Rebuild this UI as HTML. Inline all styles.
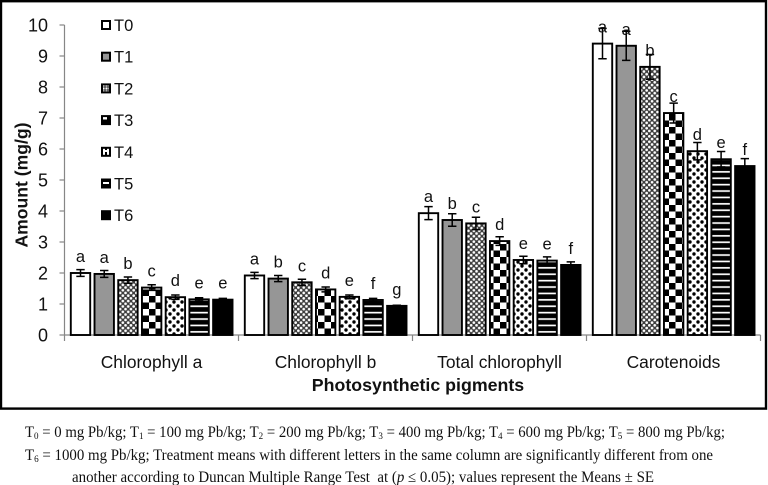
<!DOCTYPE html>
<html lang="en">
<head>
<meta charset="utf-8">
<title>Photosynthetic pigments chart</title>
<style>
html,body{margin:0;padding:0;background:#fff;width:768px;height:485px;overflow:hidden}
svg{display:block}
text{font-family:"Liberation Sans",Arial,sans-serif;fill:#111}
.cap{font-family:"Liberation Serif","Times New Roman",serif;font-size:15.5px}
.sub{font-size:9.5px}
</style>
</head>
<body>
<svg id="chart" width="768" height="485" viewBox="0 0 768 485" xmlns="http://www.w3.org/2000/svg">
<defs>
<pattern id="p-t2" width="5.4" height="5.4" patternUnits="userSpaceOnUse">
<rect width="5.4" height="5.4" fill="#3c3c3c"/>
<circle cx="1.35" cy="1.35" r="1.35" fill="#fff"/>
<circle cx="4.05" cy="4.05" r="1.35" fill="#fff"/>
</pattern>
<pattern id="p-t3" width="13" height="13" patternUnits="userSpaceOnUse" x="71" y="335">
<rect width="13" height="13" fill="#fff"/>
<rect width="6.5" height="6.5" fill="#000"/>
<rect x="6.5" y="6.5" width="6.5" height="6.5" fill="#000"/>
</pattern>
<pattern id="p-t4" width="8" height="8" patternUnits="userSpaceOnUse">
<rect width="8" height="8" fill="#fff"/>
<circle cx="2" cy="2" r="1.7" fill="#000"/>
<circle cx="6" cy="6" r="1.7" fill="#000"/>
</pattern>
<pattern id="p-t5" width="6.4" height="6.4" patternUnits="userSpaceOnUse" y="335">
<rect width="6.4" height="6.4" fill="#000"/>
<rect y="2.4" width="6.4" height="1.7" fill="#fff"/>
</pattern>
<pattern id="k-t2" width="3" height="3" patternUnits="userSpaceOnUse">
<rect width="3" height="3" fill="#444"/><circle cx="1.5" cy="1.5" r="1.1" fill="#fff"/>
</pattern>
<pattern id="k-t3" width="8" height="8" patternUnits="userSpaceOnUse" x="103" y="116">
<rect width="8" height="8" fill="#000"/><rect width="4" height="3.5" fill="#fff"/>
</pattern>
<pattern id="k-t4" width="6" height="6" patternUnits="userSpaceOnUse" x="103" y="148">
<rect width="6" height="6" fill="#fff"/><rect x="2" y="0" width="2" height="2" fill="#000"/><rect x="2" y="4" width="2" height="2" fill="#000"/>
</pattern>
<pattern id="k-t5" width="8" height="8" patternUnits="userSpaceOnUse" x="103" y="179">
<rect width="8" height="8" fill="#000"/><rect y="3" width="8" height="2" fill="#fff"/>
</pattern>
</defs>

<rect x="1" y="1.2" width="765" height="407.4" fill="#fff" stroke="#000" stroke-width="2.4"/>

<g id="axes"></g>
<g id="bars"></g>
<g id="errors"></g>
<g id="letters"></g>
<g id="legend"></g>

<text transform="translate(27.5,185) rotate(-90)" text-anchor="middle" font-size="17.6" font-weight="bold">Amount (mg/g)</text>
<text x="418" y="391" text-anchor="middle" font-size="17.8" font-weight="bold">Photosynthetic pigments</text>

<g>
<text class="cap" x="25" y="437" textLength="700" lengthAdjust="spacingAndGlyphs">T<tspan class="sub" dy="2">0</tspan><tspan dy="-2"> = 0 mg Pb/kg; T</tspan><tspan class="sub" dy="2">1</tspan><tspan dy="-2"> = 100 mg Pb/kg; T</tspan><tspan class="sub" dy="2">2</tspan><tspan dy="-2"> = 200 mg Pb/kg; T</tspan><tspan class="sub" dy="2">3</tspan><tspan dy="-2"> = 400 mg Pb/kg; T</tspan><tspan class="sub" dy="2">4</tspan><tspan dy="-2"> = 600 mg Pb/kg; T</tspan><tspan class="sub" dy="2">5</tspan><tspan dy="-2"> = 800 mg Pb/kg;</tspan></text>
<text class="cap" x="25" y="460" textLength="688" lengthAdjust="spacingAndGlyphs">T<tspan class="sub" dy="2">6</tspan><tspan dy="-2"> = 1000 mg Pb/kg; Treatment means with different letters in the same column are significantly different from one</tspan></text>
<text class="cap" x="72" y="482" textLength="582" lengthAdjust="spacingAndGlyphs">another according to Duncan Multiple Range Test &#160;at (<tspan font-style="italic">p</tspan> ≤ 0.05); values represent the Means ± SE</text>
</g>

<script>
var categories = ["Chlorophyll a", "Chlorophyll b", "Total chlorophyll", "Carotenoids"];
var seriesNames = ["T0", "T1", "T2", "T3", "T4", "T5", "T6"];
var yTicks = [0, 1, 2, 3, 4, 5, 6, 7, 8, 9, 10];

var valuesT0 = [2.00, 1.92, 3.93, 9.40];
var valuesT1 = [1.97, 1.82, 3.71, 9.33];
var valuesT2 = [1.77, 1.70, 3.60, 8.65];
var valuesT3 = [1.53, 1.47, 3.03, 7.16];
var valuesT4 = [1.22, 1.23, 2.42, 5.93];
var valuesT5 = [1.15, 1.13, 2.40, 5.67];
var valuesT6 = [1.14, 0.94, 2.26, 5.45];

var errorsT0 = [0.11, 0.10, 0.21, 0.49];
var errorsT1 = [0.11, 0.10, 0.20, 0.47];
var errorsT2 = [0.10, 0.10, 0.20, 0.40];
var errorsT3 = [0.09, 0.08, 0.14, 0.32];
var errorsT4 = [0.07, 0.06, 0.12, 0.28];
var errorsT5 = [0.05, 0.05, 0.12, 0.25];
var errorsT6 = [0.04, 0.02, 0.10, 0.24];

var lettersT0 = ["a", "a", "a", "a"];
var lettersT1 = ["a", "b", "b", "a"];
var lettersT2 = ["b", "c", "c", "b"];
var lettersT3 = ["c", "d", "d", "c"];
var lettersT4 = ["d", "e", "e", "d"];
var lettersT5 = ["e", "f", "e", "e"];
var lettersT6 = ["e", "g", "f", "f"];

var allValues = [valuesT0, valuesT1, valuesT2, valuesT3, valuesT4, valuesT5, valuesT6];
var allErrors = [errorsT0, errorsT1, errorsT2, errorsT3, errorsT4, errorsT5, errorsT6];
var allLetters = [lettersT0, lettersT1, lettersT2, lettersT3, lettersT4, lettersT5, lettersT6];

var barFills = ["#fff", "#969696", "url(#p-t2)", "url(#p-t3)", "url(#p-t4)", "url(#p-t5)", "#000"];
var keyFills = ["#fff", "#969696", "url(#k-t2)", "url(#k-t3)", "url(#k-t4)", "url(#k-t5)", "#000"];

var NS = "http://www.w3.org/2000/svg";
var PLOT_LEFT = 64.5, CATEGORY_W = 174, BAR_STEP = 23.72, BAR_W = 19.4, BAR_PAD = 6.3;
var Y_ZERO = 335, UNIT = 31;

function yScale(v) { return Y_ZERO - v * UNIT; }
function catX(c) { return PLOT_LEFT + c * CATEGORY_W; }
function barX(c, s) { return catX(c) + BAR_PAD + s * BAR_STEP; }

function make(parent, tag, attrs, txt) {
  var el = document.createElementNS(NS, tag);
  for (var k in attrs) el.setAttribute(k, attrs[k]);
  if (txt !== undefined) el.textContent = txt;
  parent.appendChild(el);
  return el;
}

var axes = document.getElementById("axes");
var barsG = document.getElementById("bars");
var errG = document.getElementById("errors");
var letG = document.getElementById("letters");
var legG = document.getElementById("legend");
var AXIS = "#868686";

var yLine = make(axes, "line", {x1: PLOT_LEFT, x2: PLOT_LEFT, y1: yScale(10), y2: yScale(0), stroke: AXIS, "stroke-width": 1.2});


var xLine = make(axes, "line", {x1: PLOT_LEFT, x2: catX(categories.length), y1: yScale(0), y2: yScale(0), stroke: AXIS, "stroke-width": 1.2});



yTicks.forEach(function (t) {
  var mark = make(axes, "line", {x1: PLOT_LEFT - 5, x2: PLOT_LEFT, y1: yScale(t), y2: yScale(t), stroke: AXIS, "stroke-width": 1.2});
  
  
  var lab = make(axes, "text", {x: 48, y: yScale(t) + 6.5, "text-anchor": "end", "font-size": 18}, String(t));
  
  
});

for (var i = 0; i <= categories.length; i++) {
  var xt = make(axes, "line", {x1: catX(i), x2: catX(i), y1: yScale(0), y2: yScale(0) + 6, stroke: AXIS, "stroke-width": 1.2});
  
  
}

categories.forEach(function (name, c) {
  var lab = make(axes, "text", {x: catX(c) + CATEGORY_W / 2, y: 368, "text-anchor": "middle", "font-size": 17.4}, name);
  
  

  seriesNames.forEach(function (sn, s) {
    var v = allValues[s][c], e = allErrors[s][c];
    var x = barX(c, s), top = yScale(v), mid = x + BAR_W / 2;

    var bar = make(barsG, "rect", {x: x, y: top, width: BAR_W, height: Y_ZERO - top, fill: barFills[s], stroke: "#000", "stroke-width": 1.9});
    
    

    var eg = make(errG, "path", {
      d: "M" + mid + " " + yScale(v + e) + "V" + yScale(v - e) +
         "M" + (mid - 4.2) + " " + yScale(v + e) + "H" + (mid + 4.2) +
         "M" + (mid - 4.2) + " " + yScale(v - e) + "H" + (mid + 4.2),
      fill: "none", stroke: "#000", "stroke-width": 1.5
    });
    
    

    var let1 = make(letG, "text", {x: mid, y: top - 11, "text-anchor": "middle", "font-size": 16.5}, allLetters[s][c]);
    
    
  });
});

seriesNames.forEach(function (sn, s) {
  var cy = 25 + s * 31.7;
  var sw = make(legG, "rect", {x: 102, y: cy - 4, width: 8, height: 8, fill: keyFills[s], stroke: "#000", "stroke-width": 2});
  
  
  var lt = make(legG, "text", {x: 114, y: cy + 6, "font-size": 16.5}, sn);
  
  
});
</script>
</svg>
</body>
</html>
